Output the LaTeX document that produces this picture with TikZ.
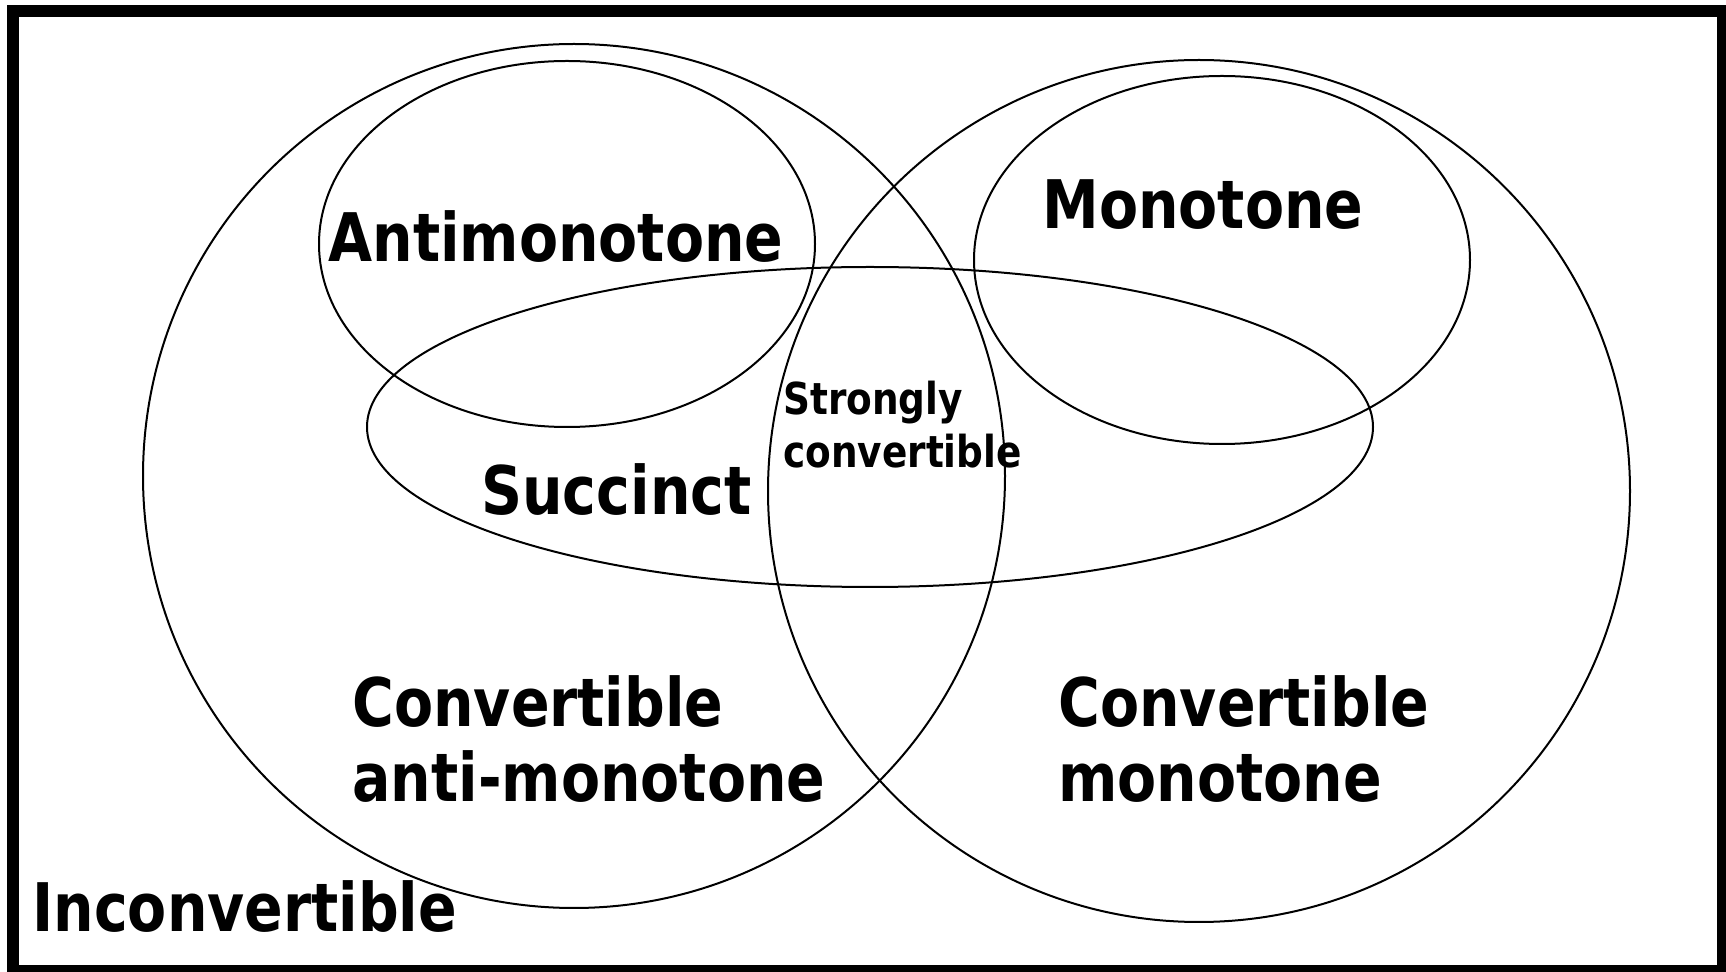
\documentclass[tikz,border=0pt]{standalone}
\usepackage{fontspec}
\newfontfamily\lblfont{DejaVu Sans}[FakeStretch=0.85]
\begin{document}
\begin{tikzpicture}[x=0.5pt,y=-0.5pt,
  set/.style={draw=black,line width=1pt},
  big/.style={font=\lblfont\bfseries\fontsize{33.5}{37.5}\selectfont,inner sep=0pt,anchor=base west,align=left},
  small/.style={font=\lblfont\bfseries\fontsize{22}{26.5}\selectfont,inner sep=0pt,anchor=base west,align=left}]
\useasboundingbox (0,0) rectangle (1726,972);
\fill[white] (0,0) rectangle (1726,972);
% frame
\draw[line width=6pt] (12.5,11.5) rectangle (1723,971);
% sets
\draw[set] (574,476) ellipse [x radius=431, y radius=432];
\draw[set] (567,244) ellipse [x radius=248, y radius=183];
\draw[set] (1199,491) ellipse [x radius=431, y radius=431];
\draw[set] (1222,260) ellipse [x radius=248, y radius=184];
\draw[set] (870,427) ellipse [x radius=503, y radius=160];
% labels (multi-line nodes: base anchor is on the last line)
\node[big] (anti) at (328,262) {Antimonotone};
\node[big] (mono) at (1042,229) {Monotone};
\node[big] (succ) at (481,515) {Succinct};
\node[small] (strong) at (783,468) {Strongly\\convertible};
\node[big] (canti) at (352,802) {Convertible\\anti-monotone};
\node[big] (cmono) at (1058,802) {Convertible\\monotone};
\node[big] (incon) at (32,932) {Inconvertible};
\end{tikzpicture}
\end{document}
